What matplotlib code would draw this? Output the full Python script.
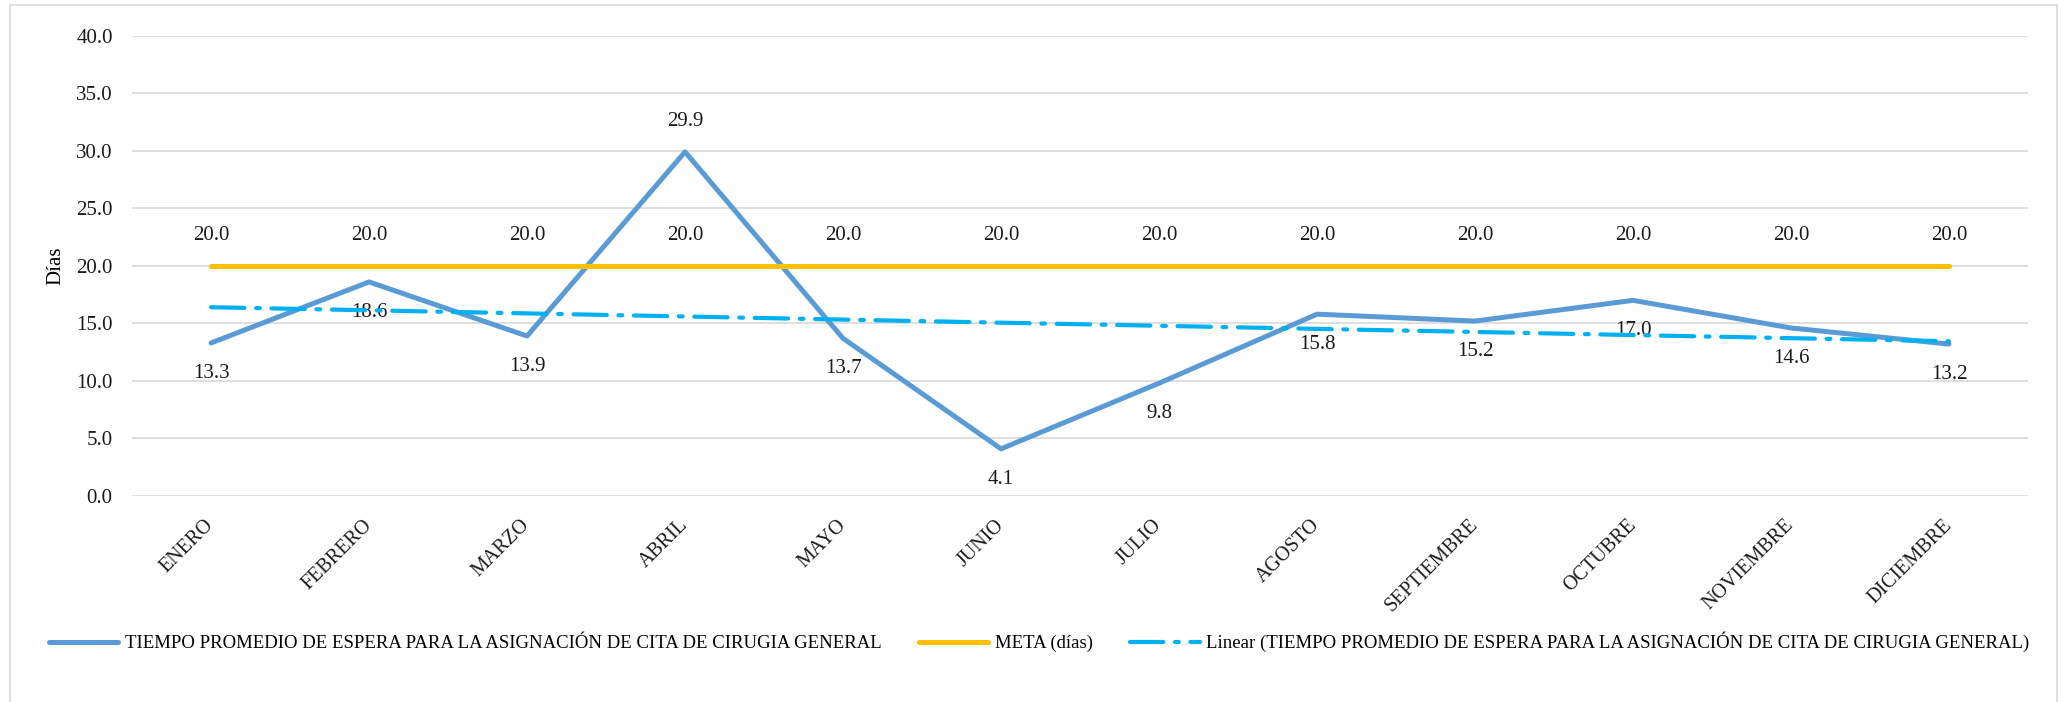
import numpy as np
import matplotlib
matplotlib.use("Agg")
import matplotlib.pyplot as plt
from matplotlib.patches import Rectangle

# data
months = ["ENERO", "FEBRERO", "MARZO", "ABRIL", "MAYO", "JUNIO", "JULIO",
          "AGOSTO", "SEPTIEMBRE", "OCTUBRE", "NOVIEMBRE", "DICIEMBRE"]
wait_days = [13.3, 18.6, 13.9, 29.9, 13.7, 4.1, 9.8, 15.8, 15.2, 17.0, 14.6, 13.2]
goal_days = [20.0] * 12
series_name = "TIEMPO PROMEDIO DE ESPERA PARA LA ASIGNACIÓN DE CITA DE CIRUGIA GENERAL"
goal_name = "META (días)"
trend_name = f"Linear ({series_name})"

FS = 15
plt.rcParams["font.family"] = ["Liberation Serif", "DejaVu Serif"]
plt.rcParams["font.size"] = FS

fig = plt.figure(figsize=(20.67, 7.02), dpi=100)
ax = fig.add_axes([0.0639, 0.2934, 0.9172, 0.6559])

x = np.arange(len(months))
# excel style linear trendline of the main series
slope, intercept = np.polyfit(x, wait_days, 1)
trend = slope * x + intercept

ax.plot(x, wait_days, color="#5B9BD5", lw=3.6, solid_capstyle="round",
        solid_joinstyle="round", label=series_name, zorder=3)
ax.plot(x, goal_days, color="#FFC000", lw=3.6, solid_capstyle="round",
        label=goal_name, zorder=3)
ax.plot(x, trend, color="#00B0F0", lw=3, dashes=(8, 2.8, 0.9, 2.8),
        dash_capstyle="round", label=trend_name, zorder=4)

for xi, v in zip(x, wait_days):
    dy = 22 if v == max(wait_days) else -22
    ax.annotate(f"{v:.1f}", (xi, v), xytext=(0, dy), textcoords="offset points",
                ha="center", va="center", fontsize=FS, color="#1a1a1a")
for xi, v in zip(x, goal_days):
    ax.annotate(f"{v:.1f}", (xi, v), xytext=(0, 22), textcoords="offset points",
                ha="center", va="center", fontsize=FS, color="#1a1a1a")

ax.set_xlim(-0.5, len(months) - 0.5)
ax.set_ylim(0, 40)
ax.set_yticks(np.arange(0, 45, 5))
ax.set_yticklabels([f"{t:.1f}" for t in np.arange(0, 45, 5)])
ax.set_xticks(x)
ax.set_xticklabels(months, rotation=45, ha="right", va="center", rotation_mode="anchor")
ax.tick_params(axis="both", length=0, labelsize=FS, colors="#1a1a1a")
ax.tick_params(axis="y", pad=14)
ax.tick_params(axis="x", pad=19, labelsize=14.5)
ax.grid(axis="y", color="#D9D9D9", lw=1.2)
ax.set_axisbelow(True)
for s in ax.spines.values():
    s.set_visible(False)

ax.set_ylabel("Días", fontsize=FS)
ax.yaxis.set_label_coords(-0.0353, 0.5)

fig.legend(loc="center", bbox_to_anchor=(0.5027, 0.0855), ncol=3, frameon=False,
           fontsize=13.5, handlelength=3.7, handletextpad=0.35, columnspacing=2.0)

fig.patches.append(Rectangle((10 / 2067, -0.01), 2047 / 2067, 1 - 5 / 702 + 0.01,
                             transform=fig.transFigure, fill=False,
                             edgecolor="#D9D9D9", lw=1.2))

fig.savefig("out.png", dpi=100, facecolor="white")
